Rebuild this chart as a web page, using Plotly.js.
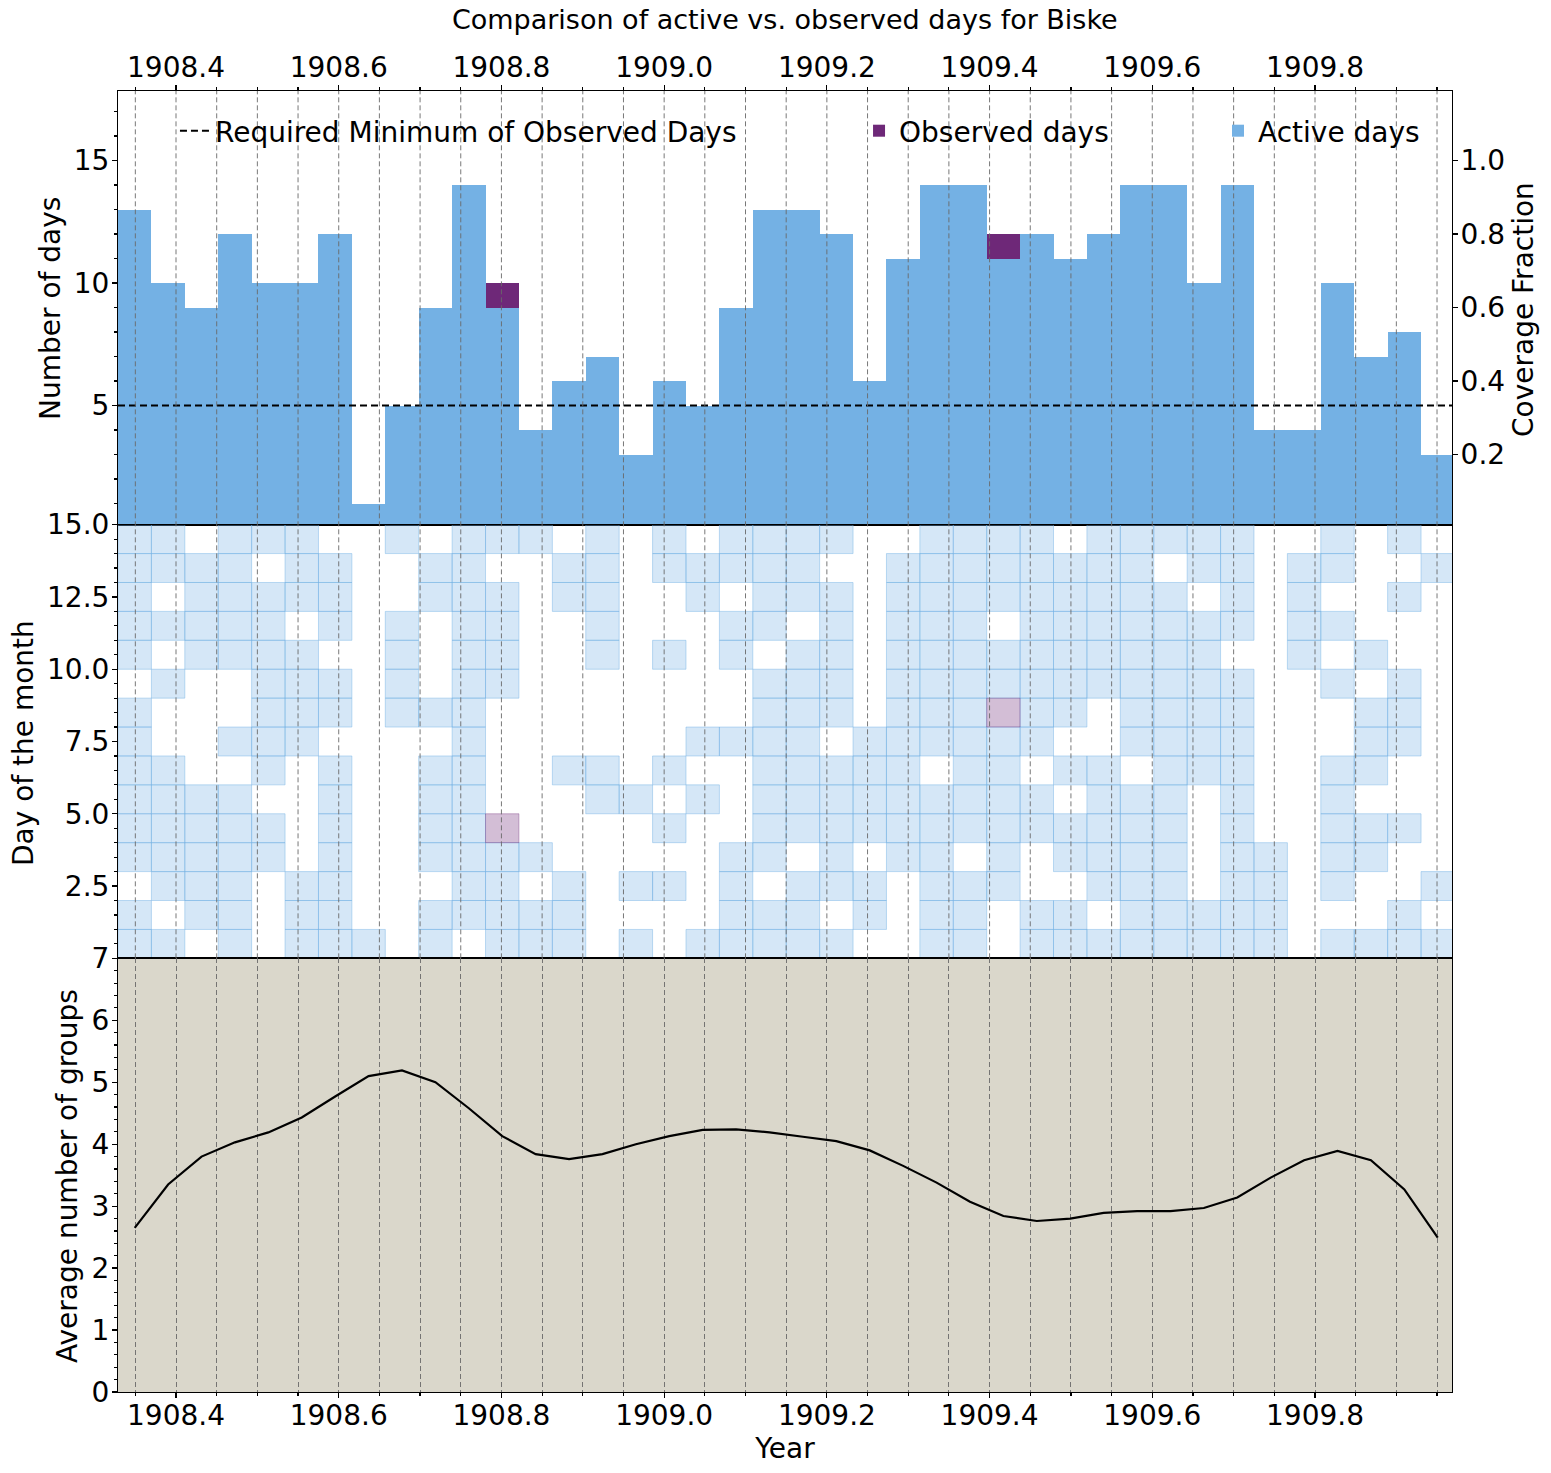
<!DOCTYPE html>
<html>
<head>
<meta charset="utf-8">
<script src="https://cdn.plot.ly/plotly-3.0.1.min.js"></script>
<style>
    html, body { margin: 0; padding: 0; background: #ffffff; }
    #chart { width: 1551px; height: 1473px; }
</style>
</head>
<body>
<div id="chart"></div>
<script>
// ============================================================================
// Data
// ============================================================================

// Half-month bins (15 days) in decimal years
const firstBinStart = 1908.3287;
const binDays = 15;

// Days (1..15 inside each bin) with an active record, one list per bin
const activeDays = [
    [1, 2, 4, 5, 6, 7, 8, 9, 11, 12, 13, 14, 15],
    [1, 3, 4, 5, 6, 7, 10, 12, 14, 15],
    [2, 3, 4, 5, 6, 11, 12, 13, 14],
    [1, 2, 3, 4, 5, 6, 8, 11, 12, 13, 14, 15],
    [4, 5, 7, 8, 9, 10, 11, 12, 13, 15],
    [1, 2, 3, 8, 9, 10, 11, 13, 14, 15],
    [1, 2, 3, 4, 5, 6, 7, 9, 10, 12, 13, 14],
    [1],
    [9, 10, 11, 12, 15],
    [1, 2, 4, 5, 6, 7, 9, 13, 14],
    [2, 3, 4, 5, 6, 7, 8, 9, 10, 11, 12, 13, 14, 15],
    [1, 2, 3, 4, 10, 11, 12, 13, 15],
    [1, 2, 4, 15],
    [1, 2, 3, 7, 13, 14],
    [6, 7, 11, 12, 13, 14, 15],
    [1, 3, 6],
    [3, 5, 7, 11, 14, 15],
    [1, 6, 8, 13, 14],
    [1, 2, 3, 4, 8, 11, 12, 14, 15],
    [1, 2, 4, 5, 6, 7, 8, 9, 10, 12, 13, 14, 15],
    [1, 2, 3, 5, 6, 7, 8, 9, 10, 11, 13, 14, 15],
    [1, 3, 4, 5, 6, 7, 9, 10, 11, 12, 13, 15],
    [2, 3, 5, 6, 7, 8],
    [4, 5, 6, 7, 8, 9, 10, 11, 12, 13, 14],
    [1, 2, 3, 4, 5, 6, 8, 9, 10, 11, 12, 13, 14, 15],
    [1, 2, 3, 5, 6, 7, 8, 9, 10, 11, 12, 13, 14, 15],
    [3, 4, 5, 6, 7, 8, 10, 11, 13, 14, 15],
    [1, 2, 5, 6, 8, 9, 10, 11, 12, 13, 14, 15],
    [1, 2, 4, 5, 7, 9, 10, 11, 12, 13, 14],
    [1, 3, 4, 5, 6, 7, 10, 11, 12, 13, 14, 15],
    [1, 2, 3, 4, 5, 6, 8, 9, 10, 11, 12, 13, 14, 15],
    [1, 2, 3, 4, 5, 6, 7, 8, 9, 10, 11, 12, 13, 15],
    [1, 2, 7, 8, 9, 10, 11, 12, 14, 15],
    [1, 2, 3, 4, 5, 6, 7, 8, 9, 10, 12, 13, 14, 15],
    [1, 2, 3, 4],
    [11, 12, 13, 14],
    [1, 3, 4, 5, 6, 7, 10, 12, 14, 15],
    [1, 4, 5, 7, 8, 9, 11],
    [1, 2, 5, 8, 9, 10, 13, 15],
    [1, 3, 14]
];

// Days that were actually observed (bin index -> days)
const observedDays = { 11: [5], 26: [9] };

// Average number of groups, one value per bin
const avgGroups = [
    2.65, 3.35, 3.80, 4.03, 4.19, 4.43, 4.77, 5.10, 5.19, 5.00,
    4.58, 4.13, 3.84, 3.76, 3.84, 4.00, 4.13, 4.23, 4.24, 4.19,
    4.12, 4.05, 3.90, 3.65, 3.38, 3.07, 2.84, 2.76, 2.80, 2.89,
    2.92, 2.92, 2.97, 3.14, 3.46, 3.74, 3.89, 3.74, 3.27, 2.49
];

const requiredMinimum = 5;

const xRange = [1908.3287, 1909.9684];
const daysRange = [0.14, 17.84];

// ============================================================================
// Derived series
// ============================================================================

const binWidth = binDays / 365.25;
const binStarts = activeDays.map((_, i) => firstBinStart + i * binWidth);
const binCenters = binStarts.map(s => s + binWidth / 2);
const activeCounts = activeDays.map(d => d.length);
const observedCounts = activeDays.map((_, i) => (observedDays[i] || []).length);
const coverage = activeCounts.map((c, i) => (c + observedCounts[i]) / binDays);

/**
 * Build one filled scatter path with a rectangle per (bin, day) cell.
 * @param {Function} daysOf - returns the day list of bin i
 */
function cellPath(daysOf) {
    const xs = [], ys = [];
    binStarts.forEach((x0, i) => {
        const x1 = x0 + binWidth;
        daysOf(i).forEach(d => {
            xs.push(x0, x1, x1, x0, x0, null);
            ys.push(d - 1, d - 1, d, d, d - 1, null);
        });
    });
    return { xs, ys };
}

const activeCells = cellPath(i => activeDays[i]);
const observedCells = cellPath(i => observedDays[i] || []);

// ============================================================================
// Traces
// ============================================================================

const BLUE = '#74b1e4';
const PURPLE = '#6e2878';
const FONT = 'DejaVu Sans, sans-serif';
const GRID = 'rgba(105,105,105,0.9)';

const traces = [
    {
        type: 'bar', x: binCenters, y: activeCounts, width: binWidth,
        name: 'Active days', legend: 'legend3',
        marker: { color: BLUE, line: { width: 0 } },
        xaxis: 'x', yaxis: 'y', hoverinfo: 'skip'
    },
    {
        type: 'bar', x: binCenters, y: observedCounts, width: binWidth,
        name: 'Observed days', legend: 'legend2',
        marker: { color: PURPLE, line: { width: 0 } },
        xaxis: 'x', yaxis: 'y', hoverinfo: 'skip'
    },
    {
        type: 'scatter', mode: 'lines',
        x: xRange, y: [requiredMinimum, requiredMinimum],
        name: 'Required Minimum of Observed Days', legend: 'legend',
        line: { color: 'black', width: 2, dash: '7px,4px' },
        xaxis: 'x', yaxis: 'y'
    },
    // coverage fraction on the right axis (same heights, kept invisible)
    {
        type: 'scatter', mode: 'markers', x: binCenters, y: coverage,
        marker: { opacity: 0 }, showlegend: false, hoverinfo: 'skip',
        xaxis: 'x', yaxis: 'y4'
    },
    {
        type: 'scatter', mode: 'lines', fill: 'toself',
        x: activeCells.xs, y: activeCells.ys,
        fillcolor: 'rgba(116,177,228,0.3)',
        line: { color: 'rgba(116,177,228,0.45)', width: 1 },
        showlegend: false, xaxis: 'x2', yaxis: 'y2', hoverinfo: 'skip'
    },
    {
        type: 'scatter', mode: 'lines', fill: 'toself',
        x: observedCells.xs, y: observedCells.ys,
        fillcolor: 'rgba(110,40,120,0.3)',
        line: { color: 'rgba(110,40,120,0.35)', width: 1 },
        showlegend: false, xaxis: 'x2', yaxis: 'y2', hoverinfo: 'skip'
    },
    {
        type: 'scatter', mode: 'lines',
        x: binCenters, y: avgGroups,
        line: { color: 'black', width: 2.2 },
        showlegend: false, xaxis: 'x3', yaxis: 'y3'
    }
];

// ============================================================================
// Layout
// ============================================================================

const gridTicks = [];
for (let t = 1908.35; t < xRange[1]; t += 0.05) gridTicks.push(+t.toFixed(2));

const axisBase = {
    showline: true, mirror: true, linecolor: 'black', linewidth: 1,
    zeroline: false, showgrid: false,
    ticks: 'outside', ticklen: 5, tickwidth: 1.2, tickcolor: 'black',
    tickfont: { family: FONT, size: 28, color: 'black' },
    automargin: false
};

const minorTicks = { ticks: 'outside', ticklen: 3, tickcolor: 'black' };

const xBase = Object.assign({}, axisBase, {
    range: xRange, tick0: 1908.4, dtick: 0.2, tickformat: '.1f',
    minor: Object.assign({ tick0: 1908.35, dtick: 0.05 }, minorTicks)
});

const titleFont = { family: FONT, size: 28, color: 'black' };

// dashed vertical lines drawn over the top two panels
const gridShapes = gridTicks.map(t => ({
    type: 'line', xref: 'x', yref: 'paper', x0: t, x1: t, y0: 1 / 3, y1: 1,
    layer: 'above',
    line: { color: GRID, width: 1, dash: '5px,3px' }
}));

// y-axis titles placed like the reference (pixel centres -> paper coords)
const plotL = 118, plotW = 1334, plotT = 91, plotH = 1301;
const yTitle = (text, px, py) => ({
    text, textangle: -90, showarrow: false,
    xref: 'paper', yref: 'paper',
    x: (px - plotL) / plotW, y: 1 - (py - plotT) / plotH,
    xanchor: 'center', yanchor: 'middle',
    font: titleFont
});

const legendBase = {
    xanchor: 'left', y: 1 - 40 / 1301, yanchor: 'middle',
    orientation: 'h', bgcolor: 'rgba(0,0,0,0)',
    font: { family: FONT, size: 28, color: 'black' }
};

const layout = {
    width: 1551, height: 1473,
    margin: { l: 118, r: 99, t: 91, b: 81 },
    paper_bgcolor: 'white',
    plot_bgcolor: 'white',
    font: { family: FONT, size: 28, color: 'black' },
    barmode: 'stack', bargap: 0,
    title: {
        text: 'Comparison of active vs. observed days for Biske',
        x: 0.506, xanchor: 'center', y: 1 - 20 / 1473, yanchor: 'middle',
        yref: 'container', font: { family: FONT, size: 27, color: 'black' }
    },
    xaxis: Object.assign({}, xBase, { anchor: 'y', side: 'top', domain: [0, 1], ticklabelstandoff: -3 }),
    xaxis2: Object.assign({}, xBase, { anchor: 'y2', showticklabels: false, ticks: '', minor: { ticks: '' } }),
    xaxis3: Object.assign({}, xBase, {
        anchor: 'y3', side: 'bottom', ticklabelstandoff: -7,
        showgrid: true, gridcolor: GRID, gridwidth: 1, griddash: '5px,3px',
        minor: Object.assign({
            tick0: 1908.35, dtick: 0.05,
            showgrid: true, gridcolor: GRID, gridwidth: 1, griddash: '5px,3px'
        }, minorTicks),
        title: { text: 'Year', font: titleFont, standoff: 0 }
    }),
    yaxis: Object.assign({}, axisBase, {
        anchor: 'x', domain: [2 / 3, 1], range: daysRange,
        tickvals: [5, 10, 15], ticklabelstandoff: -3,
        minor: Object.assign({ dtick: 1 }, minorTicks)
    }),
    yaxis4: Object.assign({}, axisBase, {
        anchor: 'x', overlaying: 'y', side: 'right', mirror: false,
        range: daysRange.map(v => v / binDays), ticklabelstandoff: -3,
        tickvals: [0.2, 0.4, 0.6, 0.8, 1.0], tickformat: '.1f'
    }),
    yaxis2: Object.assign({}, axisBase, {
        anchor: 'x2', domain: [1 / 3, 2 / 3], range: [0, 15],
        tickvals: [2.5, 5, 7.5, 10, 12.5, 15], tickformat: '.1f', ticklabelstandoff: -3,
        minor: Object.assign({ dtick: 0.5 }, minorTicks)
    }),
    yaxis3: Object.assign({}, axisBase, {
        anchor: 'x3', domain: [0, 1 / 3], range: [0, 7], dtick: 1, ticklabelstandoff: -3,
        minor: Object.assign({ dtick: 0.2 }, minorTicks)
    }),
    legend: Object.assign({}, legendBase, { x: 0.0427 }),
    legend2: Object.assign({}, legendBase, { x: 0.5555 }),
    legend3: Object.assign({}, legendBase, { x: 0.8246 }),
    annotations: [
        yTitle('Number of days', 50, 309),
        yTitle('Day of the month', 23, 743),
        yTitle('Average number of groups', 67, 1176),
        yTitle('Coverage Fraction', 1524, 310)
    ],
    shapes: [
        {
            type: 'rect', xref: 'x3 domain', yref: 'y3 domain',
            x0: 0, x1: 1, y0: 0, y1: 1, layer: 'below',
            fillcolor: '#dad7cb', line: { width: 0 }
        }
    ].concat(gridShapes)
};

Plotly.newPlot('chart', traces, layout, { displayModeBar: false, staticPlot: true });
</script>
</body>
</html>
